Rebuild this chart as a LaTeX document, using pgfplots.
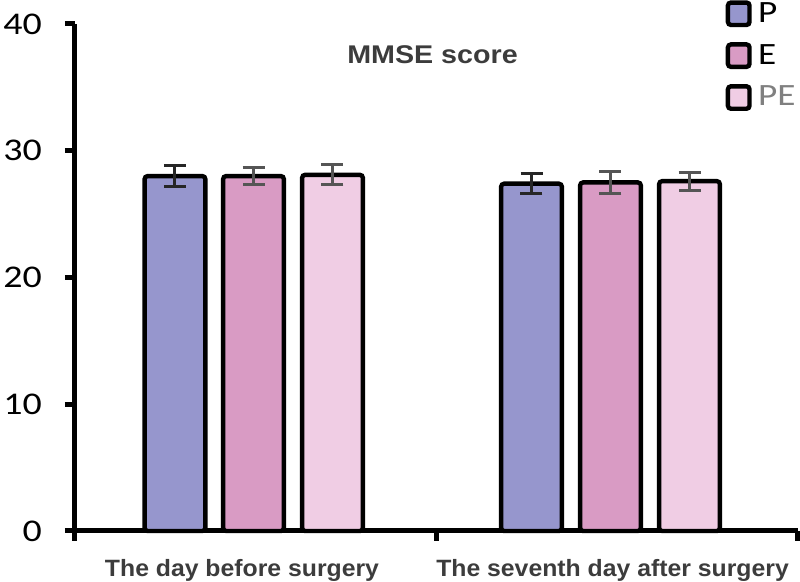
\documentclass[border=0pt]{standalone}
\usepackage{fontspec}
\setmainfont{Carlito}
\newfontfamily\arialf{Liberation Sans}
\usepackage{pgfplots}
\pgfplotsset{compat=1.18}
\definecolor{cP}{RGB}{150,150,205}
\definecolor{cE}{RGB}{217,155,196}
\definecolor{cPE}{RGB}{240,205,228}
\definecolor{errc}{RGB}{85,85,85}
\definecolor{titc}{RGB}{60,60,60}
\begin{document}
\begin{tikzpicture}
\useasboundingbox (-37.5pt,-25.5pt) rectangle (362.5pt,265.5pt);
\begin{axis}[
  scale only axis,
  width=361.5pt, height=253.5pt,
  xmin=0, xmax=2, ymin=0, ymax=40,
  clip=false,
  axis lines=left,
  axis line style={line width=2.5pt, -},
  tick style={line width=2.5pt, black},
  tick align=outside,
  major tick length=5pt,
  ytick={0,10,20,30,40},
  yticklabel={\scalebox{1.2}[1]{\fontsize{15.8}{18}\selectfont\pgfmathprintnumber{\tick}}},
  y tick label style={anchor=east, xshift=-8pt},
  /pgf/number format/assume math mode=true,
  xtick={0,1,2},
  xticklabels={},
  extra x ticks={0.462,1.487},
  extra x tick labels={The day before surgery, The seventh day after surgery},
  extra x tick style={major tick length=0pt, tick label style={anchor=base, yshift=-23pt, font=\arialf\bfseries\fontsize{11.8}{13}\selectfont, text=titc, xscale=1.05}},
  ybar, bar shift=0pt, bar width=0.168,
  every axis plot/.append style={line width=2.2pt, draw=black, rounded corners=1.5pt},
  error bars/y dir=both, error bars/y explicit,
  error bars/error bar style={line width=1.5pt, color=errc, rounded corners=0pt},
  error bars/error mark options={rotate=90, mark size=5.5pt, line width=1.5pt, color=errc},
  legend style={at={(axis cs:1.799,41.9)}, anchor=north west, draw=none, fill=none, inner sep=0pt, row sep=7.5pt, column sep=2pt,
    font=\fontsize{15.5}{18}\selectfont, nodes={xscale=1.2, inner sep=1pt}},
  legend cell align=left,
  legend image code/.code={\draw[line width=2.2pt, rounded corners=1.5pt, draw=black] (0pt,-5.6pt) rectangle (10.8pt,5.6pt);},
]
\addplot[fill=cP, error bars/error bar style={color=black!85}, error bars/error mark options={rotate=90, mark size=5.5pt, line width=1.5pt, color=black!85}] coordinates {(0.2766,28.0) +- (0,0.8) (1.2628,27.4) +- (0,0.8)};
\addplot[fill=cE] coordinates {(0.4938,28.0) +- (0,0.7) (1.4813,27.5) +- (0,0.9)};
\addplot[fill=cPE] coordinates {(0.7123,28.1) +- (0,0.8) (1.6999,27.6) +- (0,0.7)};
\legend{P, E, \textcolor{gray}{PE}}
\node[anchor=base, font=\arialf\bfseries\fontsize{12.8}{14}\selectfont, text=titc, xscale=1.12] at (axis cs:0.989,36.9) {MMSE score};
\end{axis}
\end{tikzpicture}
\end{document}
